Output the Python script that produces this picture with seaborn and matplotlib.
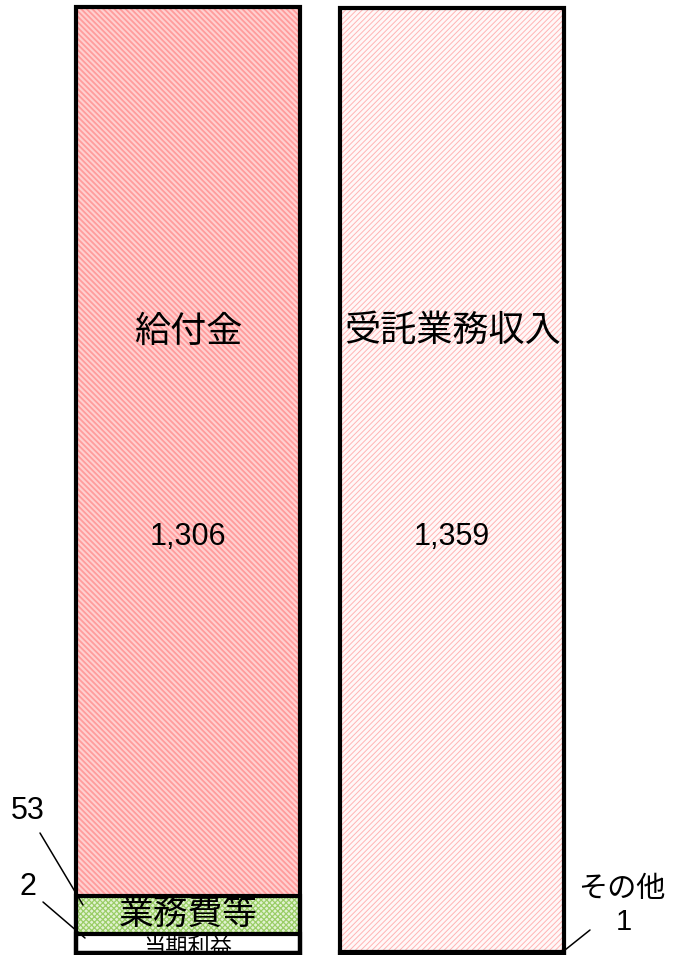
import matplotlib
matplotlib.use("Agg")
import matplotlib.pyplot as plt
import seaborn as sns
import pandas as pd

# ---------------- data ----------------
sides = ["費用", "収益"]
# segments bottom -> top, heights as drawn in the picture
left_names = ["当期利益", "業務費等", "給付金"]
left_heights = [27, 55, 1279]
left_labels = [2, 53, 1306]
right_names = ["その他", "受託業務収入"]
right_heights = [1, 1359]
right_labels = [1, 1359]

# ---------------- styles ----------------
styles = {
    "給付金": dict(face="#ffd0d0", hatch="\\" * 6, hcolor="#ff9c9c", hlw=1.3),
    "受託業務収入": dict(face="#fff8f8", hatch="/" * 6, hcolor="#ffb4b4", hlw=0.7),
    "業務費等": dict(face="#e2f2d2", hatch="x" * 6, hcolor="#9acd66", hlw=0.9),
    "当期利益": dict(face="white", hatch=None, hcolor="white", hlw=1.0),
    "その他": dict(face="white", hatch=None, hcolor="white", hlw=1.0),
}

sns.set_theme(style="white")
CJK = ["Noto Sans CJK JP", "DejaVu Sans"]
NUM = ["Liberation Sans", "DejaVu Sans"]
plt.rcParams["font.family"] = CJK
plt.rcParams["text.color"] = "black"

W, H = 673, 955
fig = plt.figure(figsize=(W / 100, H / 100), dpi=100)
ax = fig.add_axes([0, 0, 1, 1])

# cumulative tops, listed from the top segment downward
def cum_from_top(heights):
    tops, s = [], 0
    for h in heights:
        s += h
        tops.append(s)
    return tops[::-1]

left_tops = cum_from_top(left_heights)
right_tops = cum_from_top(right_heights)
left_top_names = left_names[::-1]
right_top_names = right_names[::-1]
n_layers = max(len(left_tops), len(right_tops))

BAR_W = 0.85
for k in range(n_layers):
    lh = left_tops[k] if k < len(left_tops) else 0
    rh = right_tops[k] if k < len(right_tops) else 0
    ln = left_top_names[k] if k < len(left_top_names) else None
    rn = right_top_names[k] if k < len(right_top_names) else None
    df = pd.DataFrame({"side": sides, "value": [lh, rh]})
    n0 = len(ax.patches)
    sns.barplot(data=df, x="side", y="value", order=sides, width=BAR_W,
                errorbar=None, ax=ax, zorder=1 + k)
    for p, name in zip(ax.patches[n0:], [ln, rn]):
        if name is None:
            p.set_visible(False)
            continue
        st = styles[name]
        p.set_facecolor(st["face"])
        p.set_edgecolor(st["hcolor"])
        p.set_linewidth(0)
        if st["hatch"]:
            p.set_hatch(st["hatch"])
            if hasattr(p, "set_hatch_linewidth"):
                p.set_hatch_linewidth(st["hlw"])
    # outlines
    n0 = len(ax.patches)
    sns.barplot(data=df, x="side", y="value", order=sides, width=BAR_W,
                errorbar=None, ax=ax, zorder=20,
                facecolor="none", edgecolor="black", linewidth=3.0)
    for p, name in zip(ax.patches[n0:], [ln, rn]):
        p.set_facecolor("none")
        p.set_edgecolor("black")
        p.set_linewidth(3.0)
        p.set_hatch(None)
        if name is None:
            p.set_visible(False)

# ---------------- layout ----------------
total = sum(right_heights)
scale = 944.5 / total          # px per unit
bar_bottom_px = 952.5
ylim0 = -(H - bar_bottom_px) / scale
ylim1 = bar_bottom_px / scale
x_step = 264.0
x0_px = 188.0
xlim0 = -x0_px / x_step
xlim1 = xlim0 + W / x_step
ax.set_xlim(xlim0, xlim1)
ax.set_ylim(ylim0, ylim1)
ax.set_axis_off()

def px(xp, yp):
    return (xlim0 + xp / W * (xlim1 - xlim0), ylim1 - yp / H * (ylim1 - ylim0))

def fmt(v):
    return f"{v:,}"

TXT = dict(ha="center", va="center", color="black")

# big segment labels
ax.text(0, px(0, 332)[1], left_names[2], fontsize=26, family=CJK, zorder=30, **TXT)
ax.text(0, px(0, 537)[1], fmt(left_labels[2]), fontsize=22, family=NUM, zorder=30, **TXT)
ax.text(1, px(0, 331)[1], right_names[1], fontsize=26, family=CJK, zorder=30, **TXT)
ax.text(1, px(0, 537)[1], fmt(right_labels[1]), fontsize=22, family=NUM, zorder=30, **TXT)

# 業務費等 inside its segment
mid_g = left_heights[0] + left_heights[1] / 2
ax.text(0, mid_g, left_names[1], fontsize=25, family=CJK, zorder=30, **TXT)
# 当期利益 (partially hidden by the bottom border, as in the reference)
ax.text(0, px(0, 947)[1], left_names[0], fontsize=16, family=CJK, zorder=15, **TXT)

# outside value labels with leader lines
ax.text(*px(28, 811), fmt(left_labels[1]), fontsize=22, family=NUM, zorder=30, **TXT)
ax.plot(*zip(px(40, 833), px(83, 905)), color="black", lw=1.1, zorder=25)
ax.text(*px(28, 887), fmt(left_labels[0]), fontsize=22, family=NUM, zorder=30, **TXT)
ax.plot(*zip(px(43, 902), px(85, 938)), color="black", lw=1.1, zorder=25)

ax.text(*px(622, 889), right_names[0], fontsize=21, family=CJK, zorder=30, **TXT)
ax.text(*px(624, 922), fmt(right_labels[0]), fontsize=21, family=NUM, zorder=30, **TXT)
ax.plot(*zip(px(590, 930), px(565, 950)), color="black", lw=1.1, zorder=25)

fig.savefig("out.png", dpi=100)
